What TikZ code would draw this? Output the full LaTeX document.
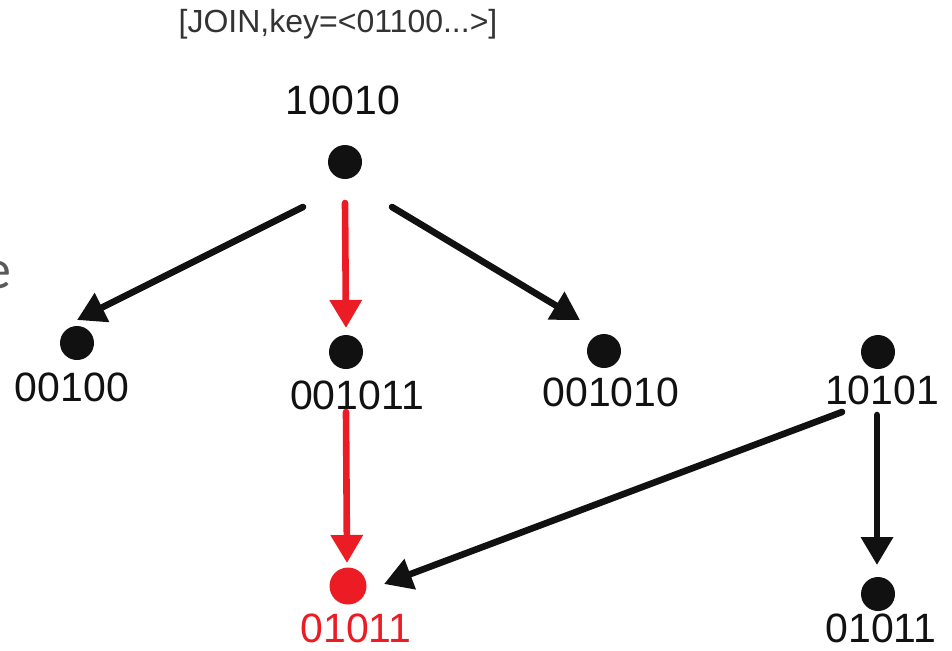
\documentclass[tikz,border=0pt]{standalone}
\usepackage{fontspec}
\setmainfont{Liberation Sans}
\newfontfamily\marginfont{Carlito}
\usetikzlibrary{arrows.meta}
\definecolor{joinRed}{HTML}{EC1C24}
\definecolor{joinInk}{HTML}{111111}
\definecolor{joinGray}{HTML}{333333}
\definecolor{joinFaint}{HTML}{5A5A5A}
\tikzset{
  join diagram/.style={
    x=0.5pt, y=-0.5pt, line width=3.3pt, line cap=round,
    >={Triangle[length=14pt,width=15.5pt]},
    every node/.style={font=\fontsize{20.5}{24}\selectfont,
      text=joinInk, inner sep=0pt, outer sep=0pt}
  },
  join dot/.style={circle, fill=joinInk, minimum size=17pt},
  join edge/.style={->, draw=joinInk},
  join hit/.style={->, draw=joinRed}
}

\begin{document}
\begin{tikzpicture}[join diagram]
    \useasboundingbox (0,0) rectangle (952,650);
    % request on top, and the clipped word on the left edge
    \node[anchor=base, font=\fontsize{16}{19}\selectfont, text=joinGray] (req) at (338,32) {[JOIN,key=<01100...>]};
    \node[anchor=base east, font=\marginfont\fontsize{28}{32}\selectfont, text=joinFaint] (cut) at (11,288) {e};
    % peers
    \node[join dot] (n10010) at (345,162) {};
    \node[join dot] (n00100) at (77,343) {};
    \node[join dot] (n001011) at (346,352) {};
    \node[join dot] (n001010) at (604,351) {};
    \node[join dot] (n10101) at (878,352) {};
    \node[join dot, fill=joinRed, minimum size=18.5pt] (nhit) at (348,586) {};
    \node[join dot] (nleaf) at (878,594) {};
    \node (l10010) at (343,100) {10010};
    \node (l00100) at (72,387) {00100};
    \node (l001011) at (357,395) {001011};
    \node (l001010) at (611,392) {001010};
    \node (l10101) at (882,390) {10101};
    \node[text=joinRed] (lhit) at (356,628) {01011};
    \node (lleaf) at (881,628) {01011};
    % lookup hops
    \draw[join edge] ([shift={(-42,45)}]n10010.center) -- ([shift={(0,-23)}]n00100.center);
    \draw[join hit] ([shift={(0,41)}]n10010.center) -- ([shift={(0,-24)}]n001011.center);
    \draw[join edge] ([shift={(47,45)}]n10010.center) -- ([shift={(-24,-31)}]n001010.center);
    \draw[join hit] ([shift={(0,60)}]n001011.center) -- ([shift={(-1,-23)}]nhit.center);
    \draw[join edge] ([shift={(-36,60)}]n10101.center) -- ([shift={(36,-2)}]nhit.center);
    \draw[join edge] ([shift={(-1,63)}]n10101.center) -- ([shift={(-1,-29)}]nleaf.center);
\end{tikzpicture}
\end{document}
